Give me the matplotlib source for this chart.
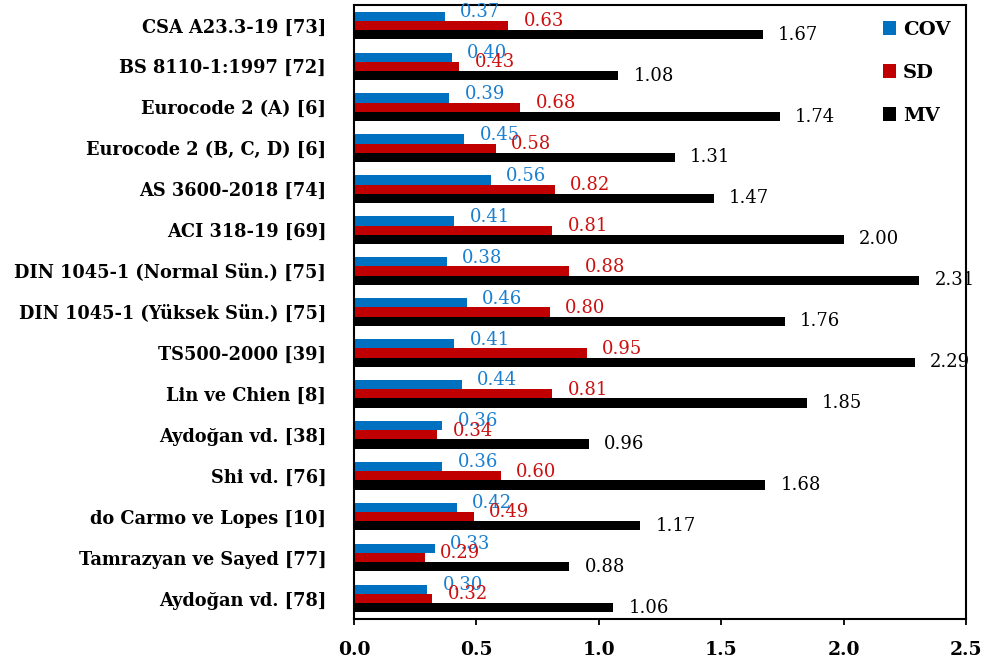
import numpy as np
import matplotlib.pyplot as plt

# categories, top to bottom as shown
categories = ["CSA A23.3-19 [73]", "BS 8110-1:1997 [72]", "Eurocode 2 (A) [6]",
              "Eurocode 2 (B, C, D) [6]", "AS 3600-2018 [74]", "ACI 318-19 [69]",
              "DIN 1045-1 (Normal Sün.) [75]", "DIN 1045-1 (Yüksek Sün.) [75]",
              "TS500-2000 [39]", "Lin ve Chien [8]", "Aydoğan vd. [38]",
              "Shi vd. [76]", "do Carmo ve Lopes [10]", "Tamrazyan ve Sayed [77]",
              "Aydoğan vd. [78]"]
cov = [0.37, 0.40, 0.39, 0.45, 0.56, 0.41, 0.38, 0.46, 0.41, 0.44, 0.36, 0.36, 0.42, 0.33, 0.30]
sd = [0.63, 0.43, 0.68, 0.58, 0.82, 0.81, 0.88, 0.80, 0.95, 0.81, 0.34, 0.60, 0.49, 0.29, 0.32]
mv = [1.67, 1.08, 1.74, 1.31, 1.47, 2.00, 2.31, 1.76, 2.29, 1.85, 0.96, 1.68, 1.17, 0.88, 1.06]

plt.rcParams['font.family'] = ['DejaVu Serif']

fig = plt.figure(figsize=(9.85, 6.64), dpi=100)
ax = fig.add_axes([0.3594, 0.0678, 0.6213, 0.9247])

n = len(categories)
y = np.arange(n)[::-1].astype(float)
h = 0.225

series = [(cov, "#0070C0", "#1a7fd0", "COV", h, 3),
          (sd, "#C00000", "#cc1010", "SD", 0.0, 3),
          (mv, "#000000", "#000000", "MV", -h, 0)]

for vals, col, tcol, name, off, up in series:
    ax.barh(y + off, vals, height=h, color=col, label=name)
    for yi, v in zip(y, vals):
        ax.annotate("{:.2f}".format(v), (v, yi + off), xytext=(11, up),
                    textcoords="offset points", va="center", ha="left",
                    color=tcol, fontsize=13)

ax.set_xlim(0, 2.5)
ax.set_ylim(-0.5, n - 0.5)
ax.set_xticks([0.0, 0.5, 1.0, 1.5, 2.0, 2.5])
ax.set_xticklabels(["0.0", "0.5", "1.0", "1.5", "2.0", "2.5"], fontweight="bold", fontsize=13.5)
ax.set_yticks(y)
ax.set_yticklabels(categories, fontweight="bold", fontsize=12.8)
ax.tick_params(axis="y", length=0, pad=20)
ax.tick_params(axis="x", direction="out", length=4, width=1.3, pad=12)
for s in ax.spines.values():
    s.set_linewidth(1.5)

leg = ax.legend(loc="upper right", bbox_to_anchor=(1.0, 1.0), frameon=False,
                handlelength=0.7, handleheight=0.7, labelspacing=1.3,
                handletextpad=0.35, borderaxespad=0.4,
                prop={"weight": "bold", "size": 14})

fig.savefig("out.png", dpi=100)
